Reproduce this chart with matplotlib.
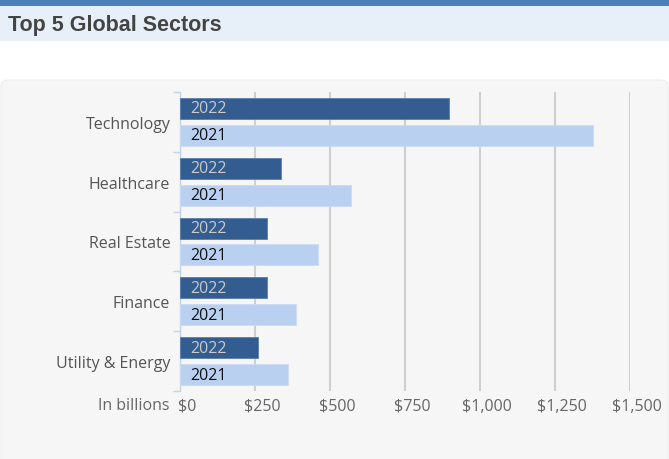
import numpy as np
import matplotlib
matplotlib.use("Agg")
import matplotlib.pyplot as plt
from matplotlib.patches import Rectangle, FancyBboxPatch
from matplotlib.ticker import FuncFormatter
import matplotlib.transforms as mtransforms

sectors = ["Technology", "Healthcare", "Real Estate", "Finance", "Utility & Energy"]
values_2022 = [895, 337, 290, 290, 260]
values_2021 = [1375, 570, 460, 385, 360]
series_labels = ["2022", "2021"]
x_ticks = [0, 250, 500, 750, 1000, 1250, 1500]

W, H = 669, 460
FS = 11.5
fig = plt.figure(figsize=(W / 100, H / 100), dpi=100)
fig.patch.set_facecolor("white")

def fx(px):
    return px / W

def fy(py):
    return 1 - py / H

# header strip + title band
fig.patches.append(Rectangle((0, fy(7)), 1, 7 / H, transform=fig.transFigure,
                             facecolor="#4a80b8", edgecolor="none", zorder=-2))
fig.patches.append(Rectangle((0, fy(42)), 1, 35 / H, transform=fig.transFigure,
                             facecolor="#e7f0f8", edgecolor="none", zorder=-2))
fig.text(fx(8), fy(26), "Top 5 Global Sectors", fontsize=15.5, fontweight="bold",
         family="Liberation Sans", color="#444444", va="center", ha="left")

# grey chart panel
fig.patches.append(FancyBboxPatch((fx(1), fy(470)), fx(667), (470 - 81) / H,
                                  boxstyle="round,pad=0,rounding_size=0.012",
                                  transform=fig.transFigure, facecolor="#f6f6f6",
                                  edgecolor="#eeeeee", linewidth=0.8, zorder=-2))

ax = fig.add_axes([fx(180), fy(392), fx(630) - fx(180), (392 - 93) / H])
ax.set_facecolor("none")

n = len(sectors)
y = np.arange(n)
bh = 0.35
dark, light = "#335d91", "#bad0f1"
ax.barh(y + 0.275, values_2022, height=bh, color=dark, edgecolor="#5b7fae",
        linewidth=0.6, zorder=3)
ax.barh(y + 0.725, values_2021, height=bh, color=light, edgecolor="#cddcf4",
        linewidth=0.6, zorder=3)

lab_off = mtransforms.offset_copy(ax.transData, fig=fig, x=10 * 0.72, y=0, units="points")
for i in range(n):
    ax.text(0, i + 0.275, series_labels[0], transform=lab_off, ha="left", va="center",
            fontsize=FS, family="Open Sans", color="#c9c9c9", zorder=4)
    ax.text(0, i + 0.725, series_labels[1], transform=lab_off, ha="left", va="center",
            fontsize=FS, family="Open Sans", color="#111111", zorder=4)

ax.set_xlim(0, 1500)
ax.set_ylim(n, 0)
ax.set_xticks(x_ticks)
ax.xaxis.set_major_formatter(FuncFormatter(lambda v, p: "${:,.0f}".format(v)))
ax.grid(axis="x", color="#cfcfcf", linewidth=1.5, zorder=1)
ax.tick_params(axis="x", length=0, pad=5, labelsize=FS, labelcolor="#666666")
for lbl in ax.get_xticklabels():
    lbl.set_family("Open Sans")
    lbl.set_transform(lbl.get_transform() + mtransforms.ScaledTranslation(7 / 100, 0, fig.dpi_scale_trans))

# category boundaries as ticks, names at centres
ax.set_yticks(np.arange(n + 1))
ax.set_yticklabels([])
ax.set_yticks(y + 0.5, minor=True)
ax.set_yticklabels(sectors, minor=True, family="Open Sans", fontsize=FS, color="#555555")
ax.tick_params(axis="y", which="major", length=5, width=1, color="#c3d3e6")
ax.tick_params(axis="y", which="minor", length=0, pad=7)

for s in ["top", "right", "bottom"]:
    ax.spines[s].set_visible(False)
ax.spines["left"].set_color("#c3d3e6")
ax.spines["left"].set_linewidth(1)

fig.text(fx(170), fy(406), "In billions", ha="right", va="center", fontsize=FS,
         family="Open Sans", color="#666666")

fig.savefig("out.png", dpi=100)
